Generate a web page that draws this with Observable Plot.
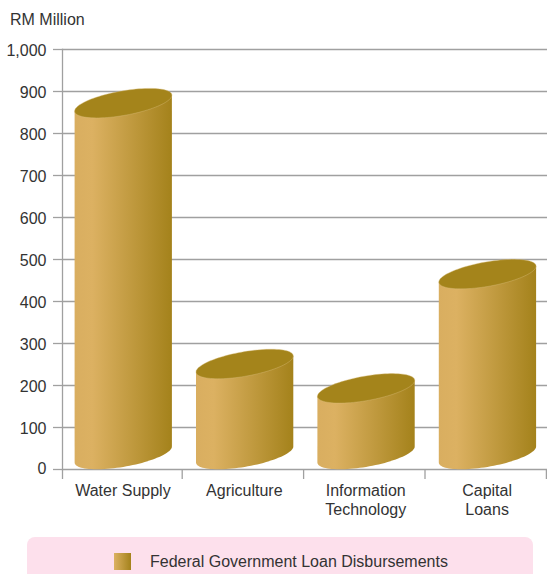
<!DOCTYPE html>
<html><head><meta charset="utf-8">
<script src="https://cdn.jsdelivr.net/npm/d3@7"></script>
<script src="https://cdn.jsdelivr.net/npm/@observablehq/plot@0.6"></script>
<style>
html,body{margin:0;padding:0;background:#fff;width:547px;height:574px;overflow:hidden;font-family:"Liberation Sans",Arial,sans-serif;color:#333}
#wrap{position:relative;width:547px;height:574px;overflow:hidden}
#unit{position:absolute;left:10px;top:11px;font-size:16px;line-height:18px}
#chart svg{display:block;position:absolute;left:0;top:0}
#legend{position:absolute;left:27px;top:537px;width:506px;height:50px;background:#fde0ec;border-radius:8px;font-size:16px}
#swatch{position:absolute;left:87px;top:16px;width:17px;height:17px;background:linear-gradient(90deg,#dcb162,#a4821b)}
#ltext{position:absolute;left:123px;top:15px;line-height:20px;white-space:nowrap}
</style></head>
<body><div id="wrap"><div id="unit">RM Million</div><div id="chart"></div>
<div id="legend"><div id="swatch"></div><div id="ltext"></div></div></div>
<script>
const categories = ["Water Supply", "Agriculture", "Information\nTechnology", "Capital\nLoans"];
const values = [852, 231, 173, 445];
const yTicks = [0, 100, 200, 300, 400, 500, 600, 700, 800, 900, 1000];
const seriesName = "Federal Government Loan Disbursements";
const rows = categories.map((c, i) => ({category: c, value: values[i]}));
const axisColor = "#a0a0a0", textColor = "#333";
document.getElementById("ltext").textContent = seriesName;

const NS = "http://www.w3.org/2000/svg";
function ellipsePoints(cx, cy, a, skew, turns) {
  // tilted ellipse sampled along its perimeter, from the right end
  const pts = [];
  const n = 48 * turns;
  for (let k = 0; k <= n; k++) {
    const t = Math.PI * k / 48;
    pts.push([cx + a * Math.cos(t), cy - skew * Math.cos(t) + 12.4 * Math.sin(t)]);
  }
  return pts;
}
function cylinders(index, scales, vals, dims, ctx, next) {
  const g = next(index, scales, vals, dims, ctx);
  const defs = document.createElementNS(NS, "defs");
  defs.innerHTML = '<linearGradient id="cyl" x1="0" x2="1" y1="0" y2="0"><stop offset="0" stop-color="#d9ae60"/><stop offset="0.18" stop-color="#dcb162"/><stop offset="1" stop-color="#a4821b"/></linearGradient>';
  g.prepend(defs);
  for (const r of Array.from(g.querySelectorAll("rect"))) {
    const x = +r.getAttribute("x"), w = +r.getAttribute("width");
    const y = +r.getAttribute("y"), h = +r.getAttribute("height");
    const a = w / 2, skew = 8, cx = x + a;
    const yTop = y - skew, yBot = y + h - 6.5 - skew;
    const base = ellipsePoints(cx, yBot, a, skew, 1);
    const path = d3.path();
    path.moveTo(x + w, yTop - skew);
    base.forEach(p => path.lineTo(p[0], p[1]));
    path.lineTo(x, yTop + skew);
    path.closePath();
    const body = document.createElementNS(NS, "path");
    body.setAttribute("d", path.toString());
    body.setAttribute("fill", "url(#cyl)");
    const top = ellipsePoints(cx, yTop, a, skew, 2);
    const tp = d3.path();
    top.forEach((p, i) => i ? tp.lineTo(p[0], p[1]) : tp.moveTo(p[0], p[1]));
    tp.closePath();
    const cap = document.createElementNS(NS, "path");
    cap.setAttribute("d", tp.toString());
    cap.setAttribute("fill", "#a4841b");
    cap.setAttribute("stroke", "#d8bd7c");
    cap.setAttribute("stroke-width", "0.4");
    r.replaceWith(body, cap);
  }
  return g;
}

const xStart = 61, xEnd = 546.6;
const bw = (xEnd - xStart) / categories.length;
const chart = Plot.plot({
  width: 547, height: 530,
  marginLeft: 62, marginRight: 0, marginTop: 49, marginBottom: 61,
  style: {fontFamily: '"Liberation Sans", Arial, sans-serif', fontSize: "16px", background: "transparent", overflow: "visible"},
  x: {domain: categories, range: [xStart, xEnd], padding: 0, round: false, label: null},
  y: {domain: [0, 1000], label: null},
  marks: [
    Plot.ruleY(yTicks, {stroke: axisColor, strokeWidth: 1.3}),
    Plot.frame({anchor: "left", stroke: axisColor, strokeWidth: 1.3}),
    Plot.axisY({ticks: yTicks, tickSize: 9, text: null, stroke: axisColor, strokeWidth: 1.3, label: null}),
    Plot.axisY({ticks: yTicks.filter(d => d > 0), tickSize: 0, tickPadding: 16, dy: 1, fill: textColor, fontSize: 16, tickFormat: d3.format(","), label: null}),
    Plot.axisY({ticks: [0], tickSize: 0, tickPadding: 16, dy: -1, fill: textColor, fontSize: 16, label: null}),
    Plot.axisX({tickSize: 0, tickPadding: 13, dx: 0.7, fill: textColor, fontSize: 16, lineHeight: 1.2, label: null, lineWidth: 20}),
    Plot.axisX({tickSize: 10, text: null, stroke: axisColor, strokeWidth: 1.3, dx: bw / 2 - 0.7, label: null}),
    Plot.axisX({ticks: categories.slice(0, 1), tickSize: 10, text: null, stroke: axisColor, strokeWidth: 1.3, dx: -bw / 2 + 1, label: null}),
    Plot.barY(rows, {x: "category", y: "value", insetLeft: 13.6, insetRight: 10.5, render: cylinders})
  ]
});
document.getElementById("chart").append(chart);
</script></body></html>
